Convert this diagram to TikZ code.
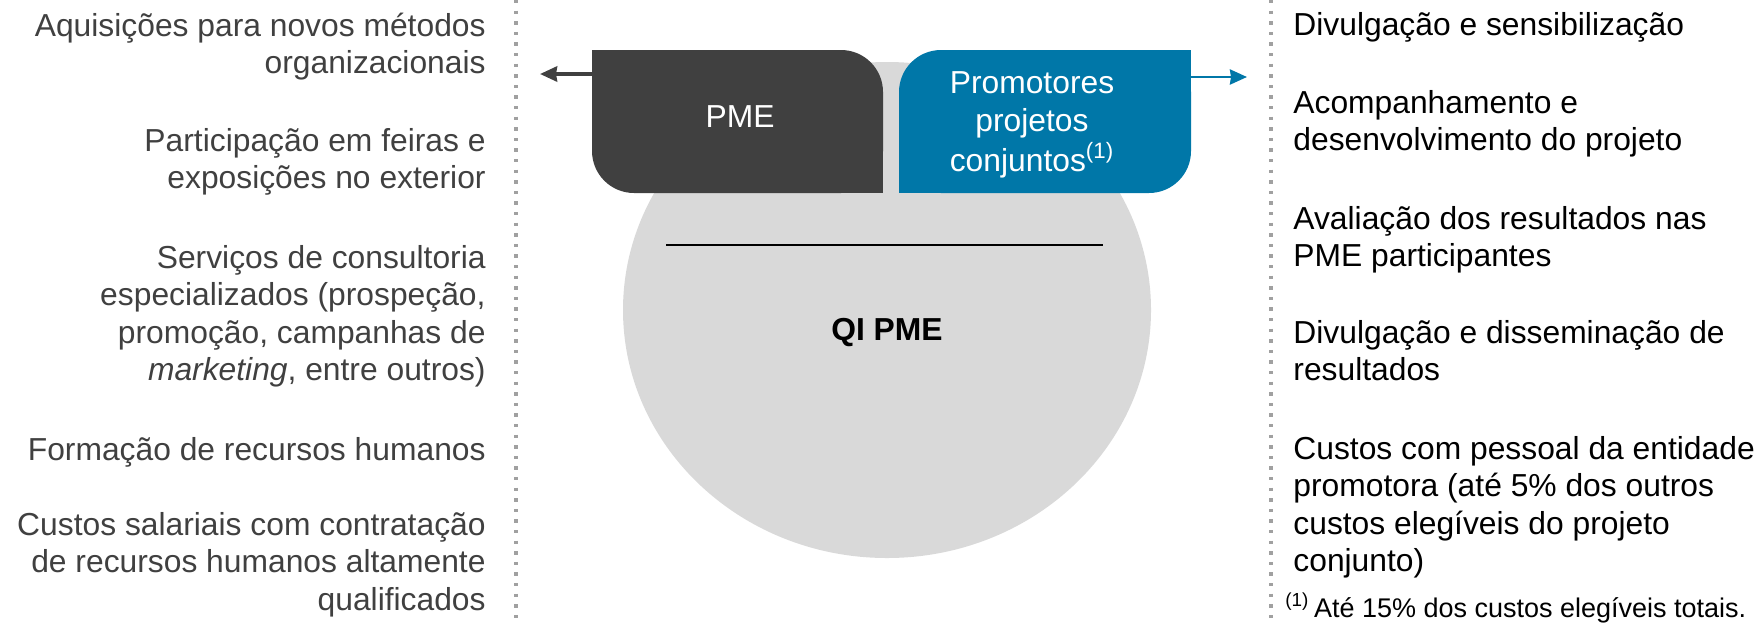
\documentclass[tikz,border=0pt]{standalone}
\usepackage{fontspec}
\setmainfont{Liberation Sans}
\usepackage{tikz}
\usetikzlibrary{arrows.meta,shapes.geometric}

\definecolor{pmegray}{RGB}{64,64,64}
\definecolor{promblue}{RGB}{0,119,168}
\definecolor{circgray}{RGB}{217,217,217}
\definecolor{dotgray}{RGB}{160,160,160}
\definecolor{txtgray}{RGB}{64,64,64}

\newcommand{\leftlines}[1]{\begin{tabular}[t]{@{}r@{}}#1\end{tabular}}
\newcommand{\rightlines}[1]{\begin{tabular}[t]{@{}l@{}}#1\end{tabular}}

\tikzset{
	bigtxt/.style={font=\fontsize{15.9}{18.75}\selectfont, inner sep=0pt},
	lefttxt/.style={bigtxt, anchor=base east, text=txtgray},
	righttxt/.style={bigtxt, anchor=base west, text=black},
	dotline/.style={dotgray, line width=2.3pt, dash pattern=on 1.7pt off 3.6pt},
	arrowline/.style={line width=1.9pt, -{Stealth[length=8.5pt,width=7.5pt,inset=0.5pt]}},
	boxshape/.style={rounded corners=21pt, minimum width=146pt, minimum height=71.5pt, inner sep=0pt},
}

\begin{document}
\begin{tikzpicture}[x=0.5pt, y=-0.5pt]
	\useasboundingbox (0,0) rectangle (1760,622);
	% disc behind the two boxes
	\node[ellipse, fill=circgray, minimum width=264pt, minimum height=248pt, inner sep=0pt] (qi) at (887,310) {};
	\draw[black, line width=0.7pt] (666,245) -- (1103,245);
	\node[bigtxt, font=\fontsize{15.9}{18.75}\selectfont\bfseries] (qilbl) at (887,333) {QI PME};

	% the two boxes
	\node[boxshape, fill=pmegray, minimum width=145.5pt] (pme) at (737.5,121.5) {};
	\fill[pmegray] (pme.north west) rectangle ++(45,45);
	\fill[pmegray] (pme.south east) rectangle ++(-45,-45);
	\node[bigtxt, text=white] (pmelbl) at (740,117) {PME};

	\node[boxshape, fill=promblue] (prom) at (1045,121.5) {};
	\fill[promblue] (prom.north east) rectangle ++(-45,45);
	\fill[promblue] (prom.south west) rectangle ++(45,-45);
	\node[bigtxt, text=white] (promlbl) at (1032,125) {\begin{tabular}{@{}c@{}}Promotores\\projetos\\conjuntos\textsuperscript{(1)}\end{tabular}};

	\coordinate (pmeend) at (540,74);
	\coordinate (promend) at (1247,77);
	\draw[arrowline, pmegray] (pme.west |- pmeend) -- (pmeend);
	\draw[arrowline, promblue, line width=1.4pt] (prom.east |- promend) -- (promend);

	\draw[dotline] (516,0) -- (516,622);
	\draw[dotline] (1271,0) -- (1271,622);

	% left column
	\node[lefttxt] (l1) at (486,36) {\leftlines{Aquisições para novos métodos\\organizacionais}};
	\node[lefttxt] (l2) at (486,151) {\leftlines{Participação em feiras e\\exposições no exterior}};
	\node[lefttxt] (l3) at (486,268) {\leftlines{Serviços de consultoria\\especializados (prospeção,\\promoção, campanhas de\\\emph{marketing}, entre outros)}};
	\node[lefttxt] (l4) at (486,460) {\leftlines{Formação de recursos humanos}};
	\node[lefttxt] (l5) at (486,535) {\leftlines{Custos salariais com contratação\\de recursos humanos altamente\\qualificados}};

	% right column
	\node[righttxt] (r1) at (1293,35) {\rightlines{Divulgação e sensibilização}};
	\node[righttxt] (r2) at (1293,113) {\rightlines{Acompanhamento e\\desenvolvimento do projeto}};
	\node[righttxt] (r3) at (1293,229) {\rightlines{Avaliação dos resultados nas\\PME participantes}};
	\node[righttxt] (r4) at (1293,343) {\rightlines{Divulgação e disseminação de\\resultados}};
	\node[righttxt] (r5) at (1293,459) {\rightlines{Custos com pessoal da entidade\\promotora (até 5\% dos outros\\custos elegíveis do projeto\\conjunto)}};
	\node[righttxt, font=\fontsize{13.5}{16}\selectfont] (fn) at (1285,617) {\textsuperscript{(1)}\,Até 15\% dos custos elegíveis totais.};
\end{tikzpicture}
\end{document}
